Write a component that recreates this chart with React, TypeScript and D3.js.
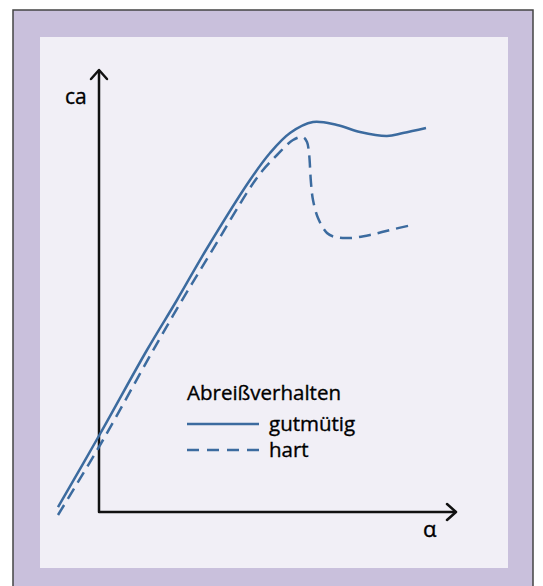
import React from "react";
import * as d3 from "d3";

const solidAlpha = [-4.1, 0.1, 4.8, 7.8, 10.7, 15.1, 17.1, 19.1, 21.4, 23.8, 26.1, 28.8, 30.4, 32.7];
const solidCa = [0.05, 0.78, 1.62, 2.12, 2.62, 3.32, 3.59, 3.79, 3.9, 3.87, 3.8, 3.76, 3.79, 3.84];

const dashedAlpha = [-4.1, 0.4, 5.2, 8.2, 11.1, 15.1, 16.4, 17.8, 19.4, 20.4, 20.8, 21.0, 21.2, 21.4, 21.9, 22.8, 23.6, 25.1, 27.1, 29.1, 31.3];
const dashedCa = [-0.03, 0.72, 1.58, 2.1, 2.58, 3.24, 3.42, 3.57, 3.72, 3.75, 3.7, 3.59, 3.29, 3.12, 2.94, 2.79, 2.75, 2.74, 2.77, 2.82, 2.87];

const legendTitle = "Abreißverhalten";
const seriesNames = ["gutmütig", "hart"];
const yLabel = "ca";
const xLabel = "α";

const W = 543;
const H = 586;
const BLUE = "#3c6b9f";
const FONT = "'Open Sans', 'Noto Sans', sans-serif";

export default function App() {
  const x = d3.scaleLinear().domain([0, 35.7]).range([99, 456]);
  const y = d3.scaleLinear().domain([0, 4.42]).range([512, 70]);
  const line = d3
    .line<[number, number]>()
    .x((d) => x(d[0]))
    .y((d) => y(d[1]))
    .curve(d3.curveCatmullRom.alpha(0.5));
  const solid = solidAlpha.map((a, i) => [a, solidCa[i]] as [number, number]);
  const dashed = dashedAlpha.map((a, i) => [a, dashedCa[i]] as [number, number]);

  const x0 = x(0), y0 = y(0), xEnd = x(35.7), yEnd = y(4.42);
  const ah = 8;
  const textStyle = { fontFamily: FONT, fill: "#000", stroke: "#000", strokeWidth: 0.35 };

  return (
    <svg
      width={W}
      height={H}
      style={{ position: "absolute", left: 0, top: 0 }}
    >
      <rect x={0} y={0} width={W} height={H} fill="#ffffff" />
      <rect x={13} y={10} width={520} height={590} fill="#c9c0dc" stroke="#444" strokeWidth={1.5} />
      <rect x={40} y={37} width={468} height={531} fill="#f1eff6" />

      {/* axes */}
      <g stroke="#111" strokeWidth={2.5} fill="none" strokeLinecap="round" strokeLinejoin="round">
        <path d={`M${x0},${yEnd + 1}V${y0}H${xEnd - 1}`} />
        <path d={`M${x0 - ah},${yEnd + ah + 1}L${x0},${yEnd}L${x0 + ah},${yEnd + ah + 1}`} />
        <path d={`M${xEnd - ah - 1},${y0 - ah}L${xEnd},${y0}L${xEnd - ah - 1},${y0 + ah}`} />
      </g>
      <text x={65} y={104} fontSize={21} style={textStyle}>{yLabel}</text>
      <text x={423} y={537} fontSize={22} style={textStyle}>{xLabel}</text>

      {/* curves */}
      <path d={line(solid) || ""} fill="none" stroke={BLUE} strokeWidth={2.5} />
      <path d={line(dashed) || ""} fill="none" stroke={BLUE} strokeWidth={2.5} strokeDasharray="12 7" />

      {/* legend */}
      <text x={187} y={400} fontSize={20.5} style={textStyle}>{legendTitle}</text>
      <line x1={187} x2={259} y1={424} y2={424} stroke={BLUE} strokeWidth={2.5} />
      <text x={269} y={431} fontSize={20.5} style={textStyle}>{seriesNames[0]}</text>
      <line x1={187} x2={259} y1={450} y2={450} stroke={BLUE} strokeWidth={2.5} strokeDasharray="12 8" />
      <text x={269} y={457} fontSize={20.5} style={textStyle}>{seriesNames[1]}</text>
    </svg>
  );
}
